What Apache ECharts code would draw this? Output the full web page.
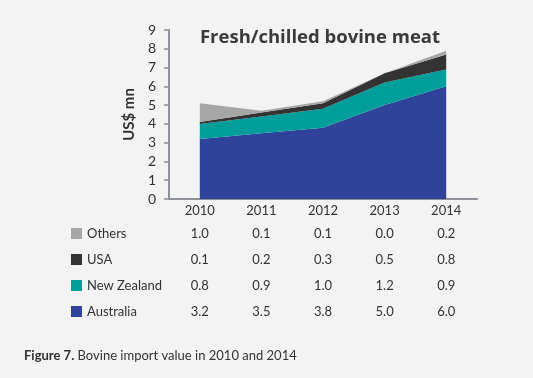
<!DOCTYPE html>
<html>
<head>
<meta charset="utf-8">
<script src="https://cdn.jsdelivr.net/npm/echarts@6/dist/echarts.min.js"></script>
<style>
html,body{margin:0;padding:0;background:#f3f3f3;}
#chart{width:533px;height:378px;}
</style>
</head>
<body>
<div id="chart"></div>
<script>
var years = ['2010', '2011', '2012', '2013', '2014'];
var australia = [3.2, 3.5, 3.8, 5.0, 6.0];
var newZealand = [0.8, 0.9, 1.0, 1.2, 0.9];
var usa = [0.1, 0.2, 0.3, 0.5, 0.8];
var others = [1.0, 0.1, 0.1, 0.0, 0.2];
var yTicks = [0, 1, 2, 3, 4, 5, 6, 7, 8, 9];

var FONT = 'Lato, "Open Sans", sans-serif';
var TXT = '#333333';
var colors = {Australia: '#2e4399', 'New Zealand': '#009e9a', USA: '#333333', Others: '#a6a6a6'};

var chart = echarts.init(document.getElementById('chart'));

function fmt(a) { return a.map(function (v) { return v.toFixed(1); }); }
var tableRows = [
  {name: 'Others', data: others, offset: 23},
  {name: 'USA', data: usa, offset: 49},
  {name: 'New Zealand', data: newZealand, offset: 75},
  {name: 'Australia', data: australia, offset: 101}
];

var xAxes = [{
  type: 'category', data: years, boundaryGap: true, gridIndex: 0,
  axisLine: {lineStyle: {color: '#8c9099', width: 2}},
  axisTick: {show: false},
  axisLabel: {color: TXT, fontSize: 13, fontFamily: FONT, margin: 5}
}];
tableRows.forEach(function (r) {
  xAxes.push({
    type: 'category', data: fmt(r.data), boundaryGap: true, gridIndex: 0,
    position: 'bottom', offset: r.offset,
    axisLine: {show: false}, axisTick: {show: false}, splitLine: {show: false},
    axisLabel: {color: TXT, fontSize: 13, fontFamily: FONT, margin: 5, interval: 0}
  });
});

function areaSeries(name, data) {
  return {
    name: name, type: 'line', stack: 'total', data: data,
    symbol: 'none', lineStyle: {width: 0}, itemStyle: {color: colors[name]},
    areaStyle: {color: colors[name], opacity: 1}, emphasis: {disabled: true}
  };
}

chart.setOption({
  backgroundColor: '#f3f3f3',
  animation: false,
  title: {
    text: 'Fresh/chilled bovine meat', left: 315, top: 23, textAlign: 'center',
    textStyle: {fontFamily: '"Open Sans", Lato, sans-serif', fontWeight: 'bold', fontSize: 18.5, color: '#3a3a3a'}
  },
  legend: {
    orient: 'vertical', left: 71, top: 227, padding: 0, itemGap: 13,
    itemWidth: 11, itemHeight: 11, icon: 'rect',
    data: ['Others', 'USA', 'New Zealand', 'Australia'],
    textStyle: {color: TXT, fontSize: 13, fontFamily: FONT},
    selectedMode: false
  },
  grid: {left: 169, top: 30, width: 308, height: 169, containLabel: false},
  xAxis: xAxes,
  yAxis: {
    type: 'value', min: 0, max: 9, interval: 1,
    name: 'US$ mn', nameLocation: 'middle', nameGap: 29,
    nameTextStyle: {fontFamily: FONT, fontWeight: 'bold', fontSize: 15, color: TXT},
    axisLine: {show: true, lineStyle: {color: '#8c9099', width: 2}},
    axisTick: {show: true, length: 5, lineStyle: {color: '#8c9099', width: 1.5}},
    splitLine: {show: false},
    axisLabel: {color: TXT, fontSize: 14, fontFamily: FONT, margin: 13,
      formatter: function (v) { return yTicks.indexOf(v) >= 0 ? String(v) : ''; }}
  },
  series: [
    areaSeries('Australia', australia),
    areaSeries('New Zealand', newZealand),
    areaSeries('USA', usa),
    areaSeries('Others', others)
  ],
  graphic: [{
    type: 'text', left: 24, top: 349,
    style: {
      text: '{b|Figure 7.} Bovine import value in 2010 and 2014',
      font: '13px ' + FONT, fill: TXT,
      rich: {b: {fontWeight: 'bold', fontSize: 13, fontFamily: FONT, fill: TXT}}
    }
  }]
});
</script>
</body>
</html>
